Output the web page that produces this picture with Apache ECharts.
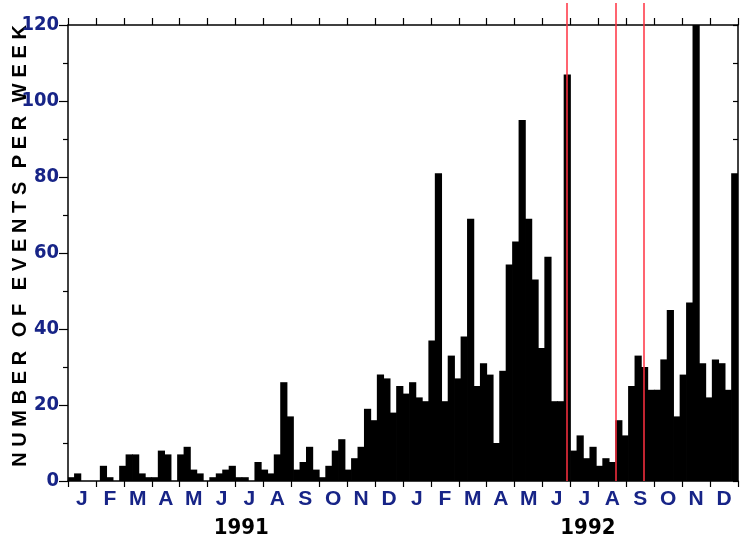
<!DOCTYPE html>
<html>
<head>
<meta charset="utf-8">
<script src="https://cdn.jsdelivr.net/npm/echarts@6/dist/echarts.min.js"></script>
<style>
  html, body { margin: 0; padding: 0; background: #fff; }
  #chart { width: 740px; height: 542px; }
</style>
</head>
<body>
<div id="chart"></div>
<script>
// weekly event counts, Jan 1991 - Dec 1992 (104 weeks)
const weeklyEvents = [
  1, 2, 0, 0, 0, 4, 1, 0, 4, 7, 7, 2, 1, 1, 8, 7, 0, 7, 9, 3,
  2, 0, 1, 2, 3, 4, 1, 1, 0, 5, 3, 2, 7, 26, 17, 3, 5, 9, 3, 1,
  4, 8, 11, 3, 6, 9, 19, 16, 28, 27, 18, 25, 23, 26, 22, 21, 37, 81, 21, 33,
  27, 38, 69, 25, 31, 28, 10, 29, 57, 63, 95, 69, 53, 35, 59, 21, 21, 107, 8, 12,
  6, 9, 4, 6, 5, 16, 12, 25, 33, 30, 24, 24, 32, 45, 17, 28, 47, 130, 31, 22,
  32, 31, 24, 81
]
const monthLabels = ['J', 'F', 'M', 'A', 'M', 'J', 'J', 'A', 'S', 'O', 'N', 'D',
                     'J', 'F', 'M', 'A', 'M', 'J', 'J', 'A', 'S', 'O', 'N', 'D']
const yearLabels = ['1991', '1992']
// event dates marked with red lines, in weeks since 1 Jan 1991
const markerWeeks = [77.4, 85.1, 89.3]

const weekNames = weeklyEvents.map((v, i) => 'W' + (i + 1))

const navy = '#172487'
const condensed = "'DejaVu Sans Condensed', 'Liberation Sans Narrow', sans-serif"
const sans = "'Liberation Sans', Arial, sans-serif"

// spaced-out axis title, as in the original
const yTitle = 'NUMBER OF EVENTS PER WEEK'
  .split(' ')
  .map(w => w.split('').join('\u2009\u200a'))
  .join(' \u2009\u2009')

const chart = echarts.init(document.getElementById('chart'))

const option = {
  animation: false,
  grid: [
    { left: 68, right: 2, top: 25, bottom: 61, containLabel: false, outerBoundsMode: 'none' },
    // overlay grid for the red marker lines (they run above the plot frame)
    { left: 68, right: 2, top: 3, bottom: 61, containLabel: false, outerBoundsMode: 'none' }
  ],
  xAxis: [
    {
      // weeks, carries the bars
      type: 'category',
      data: weekNames,
      position: 'bottom',
      axisLine: { show: false },
      axisTick: { show: false },
      axisLabel: { show: false },
      splitLine: { show: false }
    },
    {
      // month ticks and labels along the bottom
      type: 'category',
      data: monthLabels,
      position: 'bottom',
      boundaryGap: true,
      axisLine: { show: true, lineStyle: { color: '#000', width: 1.5 } },
      axisTick: { show: true, interval: 0, length: 6, lineStyle: { color: '#000', width: 1.2 } },
      axisLabel: {
        interval: 0, margin: 8, color: navy,
        fontFamily: sans, fontWeight: 'bold', fontSize: 21
      }
    },
    {
      // month ticks along the top
      type: 'category',
      data: monthLabels,
      position: 'top',
      boundaryGap: true,
      axisLine: { show: true, lineStyle: { color: '#000', width: 1.5 } },
      axisTick: { show: true, interval: 0, length: 7, lineStyle: { color: '#000', width: 1.2 } },
      axisLabel: { show: false }
    },
    {
      // week scale for the year labels
      type: 'value',
      min: 0,
      max: weeklyEvents.length,
      position: 'bottom',
      axisLine: { show: false },
      axisTick: { show: false },
      splitLine: { show: false },
      axisLabel: {
        customValues: [26.9, 80.7],
        formatter: (v) => (v < 52 ? yearLabels[0] : yearLabels[1]),
        margin: 36, color: '#000',
        fontFamily: condensed, fontWeight: 'bold', fontSize: 22
      }
    },
    {
      gridIndex: 1,
      type: 'value',
      min: 0,
      max: weeklyEvents.length,
      show: false
    }
  ],
  yAxis: [
    {
      type: 'value',
      min: 0,
      max: 120,
      interval: 20,
      position: 'left',
      name: yTitle,
      nameLocation: 'middle',
      nameRotate: 90,
      nameGap: 38,
      nameMoveOverlap: false,
      nameTextStyle: {
        color: '#000', fontWeight: 'bold', fontSize: 20, fontFamily: sans,
        padding: [0, 0, 0, 14]
      },
      axisLine: { show: true, lineStyle: { color: '#000', width: 1.5 } },
      axisTick: { show: true, length: 9, lineStyle: { color: '#000', width: 1.2 } },
      minorTick: { show: true, splitNumber: 2, length: 5, lineStyle: { color: '#000', width: 1.2 } },
      splitLine: { show: false },
      axisLabel: {
        margin: 9, color: navy,
        fontFamily: condensed, fontWeight: 'bold', fontSize: 20
      }
    },
    {
      type: 'value',
      min: 0,
      max: 120,
      interval: 10,
      position: 'right',
      axisLine: { show: true, lineStyle: { color: '#000', width: 1.5 } },
      axisTick: { show: true, inside: true, length: 5, lineStyle: { color: '#000', width: 1.2 } },
      axisLabel: { show: false },
      splitLine: { show: false }
    },
    {
      gridIndex: 1,
      type: 'value',
      min: 0,
      max: 1,
      show: false
    }
  ],
  series: [
    {
      type: 'bar',
      xAxisIndex: 0,
      yAxisIndex: 0,
      data: weeklyEvents,
      barWidth: 7.2,
      itemStyle: { color: '#000' },
      clip: true
    },
    {
      type: 'line',
      xAxisIndex: 4,
      yAxisIndex: 2,
      data: [[0, 0]],
      symbol: 'none',
      lineStyle: { opacity: 0 },
      z: 5,
      markLine: {
        silent: true,
        symbol: ['none', 'none'],
        label: { show: false },
        lineStyle: { color: '#ff3040', width: 1.5, type: 'solid' },
        data: markerWeeks.map(w => ({ xAxis: w }))
      }
    }
  ]
}

chart.setOption(option)
</script>
</body>
</html>
